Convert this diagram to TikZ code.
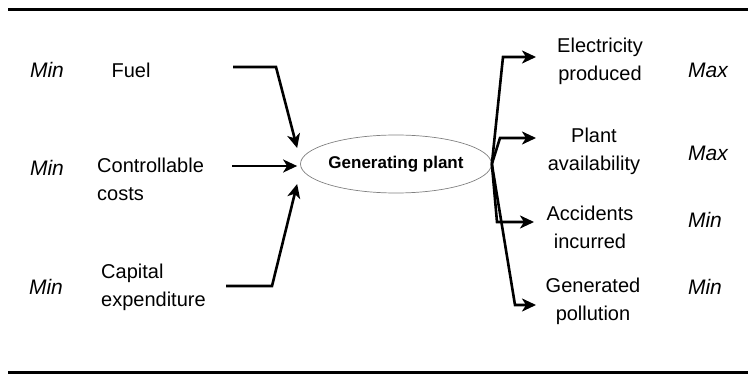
\documentclass[tikz,border=0pt]{standalone}
\usepackage{fontspec}
\setmainfont{Liberation Sans}
\usetikzlibrary{arrows.meta,shapes.geometric}

\begin{document}
\begin{tikzpicture}[
    x=1pt, y=-1pt,
    label/.style={inner sep=0pt, font=\fontsize{20}{28}\selectfont, align=center},
    goal/.style={inner sep=0pt, font=\fontsize{21}{24}\selectfont\itshape},
    plantbox/.style={draw=gray, line width=0.7pt, ellipse, minimum width=168pt, minimum height=58pt, inner sep=0pt, font=\fontsize{17}{20}\selectfont\bfseries},
    arrow/.style={-{Stealth[length=14pt,width=13pt,inset=4pt]}, line width=2.6pt},
    rule/.style={line width=3pt}
]
    \useasboundingbox (0,0) rectangle (748,377);
    \draw[rule] (8,10) -- (748,10);
    \draw[rule] (8,372) -- (748,372);

    \node[plantbox] (plant) at (396,164) {Generating plant};

    % inputs
    \node[goal] (minfuel) at (47,70) {Min};
    \node[label] (fuel) at (131,70) {Fuel};
    \node[goal] (mincost) at (47,168) {Min};
    \node[label, anchor=west, align=left] (costs) at (97,179) {Controllable\\costs};
    \node[goal] (mincap) at (46,287) {Min};
    \node[label, anchor=west, align=left] (capital) at (101,287) {Capital\\expenditure};

    % outputs
    \node[label] (elec) at (600,61) {Electricity\\produced};
    \node[label] (avail) at (594,151) {Plant\\availability};
    \node[label] (acc) at (590,227) {Accidents\\incurred};
    \node[label] (poll) at (593,301) {Generated\\pollution};
    \node[goal] (maxelec) at (708,70) {Max};
    \node[goal] (maxavail) at (708,153) {Max};
    \node[goal] (minacc) at (705,220) {Min};
    \node[goal] (minpoll) at (705,287) {Min};

    \coordinate (fuelstart) at (233,67);
    \coordinate (coststart) at (232,166);
    \coordinate (capstart) at (226,286);
    \coordinate (fuelend) at ([shift={(-3,-16)}]plant.west);
    \coordinate (costend) at (coststart -| plant.west);
    \coordinate (capend) at ([shift={(-3,20)}]plant.west);

    \draw[arrow] (fuelstart) -- (276,67) -- (fuelend);
    \draw[arrow, shorten >=3pt] (coststart) -- (costend);
    \draw[arrow] (capstart) -- (272,286) -- (capend);

    \draw[arrow] (plant.east) -- (503,57) -- (536,57);
    \draw[arrow] (plant.east) -- (500,138) -- (536,138);
    \draw[arrow] (plant.east) -- (497,222) -- (534,222);
    \draw[arrow] (plant.east) -- (515,305) -- (536,305);
\end{tikzpicture}
\end{document}
